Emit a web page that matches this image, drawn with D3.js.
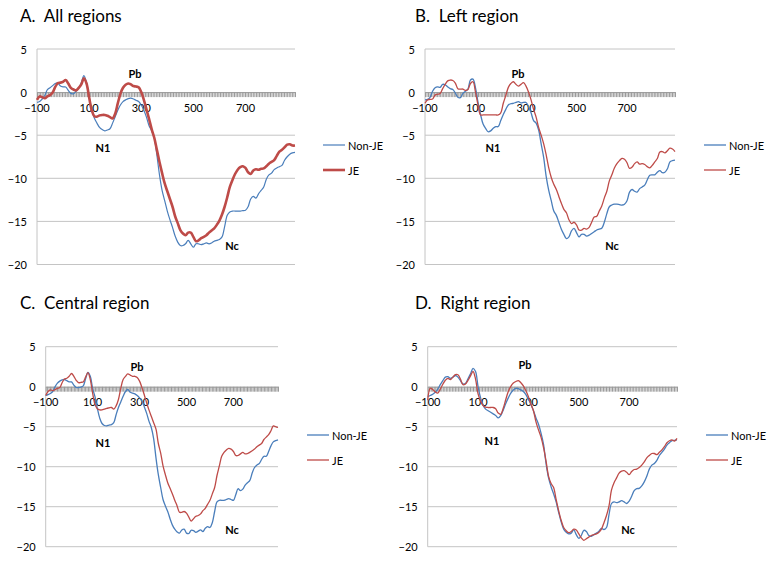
<!DOCTYPE html>
<html><head><meta charset="utf-8">
<script src="https://cdn.jsdelivr.net/npm/d3@7"></script>
<style>
body{margin:0;background:#fff;}
svg{display:block;}
text{font-family: Lato, "Open Sans", "DejaVu Sans", sans-serif; fill:#000;}
.title{white-space:pre;}
</style>
</head><body>
<svg id="chart" width="771" height="561"></svg>
<script>
// ---------- DATA ----------
const times = [-100,-90,-80,-70,-60,-50,-40,-30,-20,-10,
  0,10,20,30,40,50,60,70,80,90,
  100,110,120,130,140,150,160,170,180,190,
  200,210,220,230,240,250,260,270,280,290,
  300,310,320,330,340,350,360,370,380,390,
  400,410,420,430,440,450,460,470,480,490,
  500,510,520,530,540,550,560,570,580,590,
  600,610,620,630,640,650,660,670,680,690,
  700,710,720,730,740,750,760,770,780,790,
  800,810,820,830,840,850,860,870,880,890];

const seriesNames = ["Non-JE", "JE"];
const panelTitles = ["A.  All regions", "B.  Left region", "C.  Central region", "D.  Right region"];
const xTickLabels = [-100, 100, 300, 500, 700];
const yTicks = [5, 0, -5, -10, -15, -20];
const componentLabels = ["Pb", "N1", "Nc"];

// A. All regions
const allNonJE = [-1.2,-1.1,-0.8,-0.4,0.3,0.5,0.75,1.0,1.05,0.7,
  0.6,0.6,0.2,-0.15,-0.2,0.1,0.45,1.1,1.9,1.1,
  -0.5,-2.0,-3.0,-3.6,-4.1,-4.35,-4.5,-4.4,-4.25,-3.6,
  -2.85,-2.1,-1.5,-1.1,-0.9,-0.75,-0.7,-0.8,-0.95,-1.1,
  -1.5,-2.1,-2.9,-3.9,-4.5,-5.3,-7.3,-9.6,-11.4,-12.6,
  -13.8,-14.8,-15.7,-16.7,-17.4,-17.8,-17.8,-17.6,-17.2,-17.6,
  -18.0,-17.6,-17.6,-17.7,-17.6,-17.5,-17.6,-17.5,-17.3,-17.2,
  -17.1,-16.8,-15.6,-14.3,-13.9,-13.8,-13.8,-13.8,-13.8,-13.75,
  -13.7,-13.3,-12.4,-12.1,-12.3,-11.8,-11.4,-11.0,-10.1,-9.6,
  -9.4,-9.0,-8.8,-8.65,-8.5,-7.9,-7.5,-7.2,-7.05,-7.0];
const allJE = [-0.9,-0.5,-0.6,-0.7,-0.5,-0.35,-0.05,0.6,1.05,1.1,
  1.2,1.4,1.0,0.5,0.3,0.2,0.5,0.9,1.6,1.0,
  -0.6,-2.1,-2.8,-2.85,-2.7,-2.65,-2.65,-2.75,-2.9,-3.05,
  -2.5,-1.3,-0.2,0.5,0.85,1.0,0.9,0.7,0.65,0.55,
  0.0,-0.9,-2.0,-3.1,-4.3,-5.3,-6.7,-8.1,-9.4,-10.6,
  -11.5,-12.4,-13.3,-14.4,-15.2,-16.0,-16.4,-16.6,-16.3,-16.3,
  -16.8,-17.3,-17.2,-16.95,-16.8,-16.6,-16.3,-16.05,-15.8,-15.4,
  -14.9,-14.2,-13.3,-12.2,-11.0,-10.2,-9.5,-9.0,-8.7,-8.6,
  -8.8,-9.3,-9.5,-9.1,-8.95,-9.0,-8.9,-8.85,-8.6,-8.3,
  -8.1,-7.9,-7.4,-6.9,-6.7,-6.4,-6.1,-6.05,-6.2,-6.2];

// B. Left region
const leftNonJE = [-0.9,-0.85,-0.6,0.1,0.5,0.6,0.55,0.9,0.85,0.6,
  0.4,0.3,-0.1,-0.6,-0.65,-0.15,0.1,0.35,1.4,1.5,
  0.5,-1.2,-2.6,-3.7,-4.2,-4.6,-4.5,-4.2,-4.0,-4.0,
  -3.3,-2.6,-2.0,-1.5,-1.35,-1.3,-1.2,-1.1,-1.25,-1.2,
  -1.2,-1.7,-2.4,-3.3,-3.6,-4.4,-6.0,-7.6,-9.8,-11.4,
  -12.6,-13.8,-14.3,-15.1,-15.9,-16.5,-17.0,-16.8,-16.1,-15.8,
  -16.3,-16.8,-16.5,-16.5,-16.7,-16.6,-16.4,-16.2,-16.0,-15.9,
  -15.8,-15.1,-14.1,-13.3,-13.1,-13.0,-13.0,-13.05,-13.1,-13.0,
  -12.6,-11.6,-11.3,-11.5,-11.6,-11.2,-11.0,-10.8,-10.2,-9.65,
  -9.6,-9.6,-9.3,-9.1,-9.35,-9.3,-8.9,-8.1,-7.95,-7.9];
const leftJE = [-1.3,-0.9,-0.85,-0.8,-0.35,-0.25,-0.15,0.4,0.9,1.3,
  1.4,1.35,1.05,0.4,0.35,0.35,0.2,0.3,1.0,1.2,
  0.0,-1.5,-2.65,-2.65,-2.65,-2.65,-2.65,-2.65,-2.65,-2.65,
  -2.4,-1.3,-0.4,0.55,1.0,1.2,0.9,0.7,0.9,1.1,
  0.7,0.0,-0.9,-2.0,-2.9,-4.1,-5.0,-6.0,-7.3,-8.8,
  -9.9,-10.7,-11.3,-12.1,-12.9,-13.6,-14.0,-14.8,-15.25,-15.1,
  -15.4,-16.0,-16.0,-15.8,-15.9,-15.7,-15.1,-14.5,-14.4,-13.8,
  -13.2,-12.3,-11.5,-10.3,-9.6,-8.8,-8.3,-7.95,-7.7,-7.8,
  -8.2,-8.85,-8.7,-8.3,-8.1,-8.35,-8.3,-8.4,-8.65,-8.8,
  -8.5,-8.1,-7.7,-6.95,-6.9,-7.05,-6.8,-6.5,-6.6,-6.9];

// C. Central region
const centralNonJE = [-1.1,-1.0,-0.85,-0.6,0.0,0.45,0.7,0.85,0.9,0.75,
  0.6,0.6,0.2,-0.1,-0.1,-0.05,0.1,1.0,1.8,1.3,
  -0.2,-1.25,-2.7,-3.9,-4.6,-4.85,-4.9,-4.8,-4.75,-4.5,
  -3.5,-2.6,-1.9,-1.2,-0.6,-0.35,-0.7,-0.8,-0.9,-1.1,
  -1.4,-1.8,-2.5,-3.3,-4.3,-5.1,-6.5,-8.9,-11.0,-12.6,
  -14.1,-14.9,-15.6,-16.5,-17.3,-17.8,-18.15,-18.3,-17.9,-17.8,
  -18.3,-18.35,-17.95,-18.0,-18.2,-18.05,-17.9,-18.1,-17.7,-17.5,
  -17.6,-17.0,-15.6,-14.4,-14.2,-14.2,-14.2,-14.1,-14.0,-14.1,
  -14.2,-13.5,-12.75,-13.0,-12.8,-12.3,-12.0,-11.7,-10.8,-10.1,
  -9.8,-9.6,-9.1,-8.7,-8.7,-8.1,-7.4,-6.9,-6.75,-6.65];
const centralJE = [-1.1,-0.6,-0.4,-0.5,-0.35,-0.2,-0.1,0.5,0.95,1.05,
  1.3,1.65,1.3,0.8,0.5,0.55,0.6,1.2,1.75,0.9,
  -0.8,-2.2,-2.75,-2.9,-2.9,-2.8,-2.7,-2.65,-2.6,-2.8,
  -2.4,-1.6,-0.2,0.9,1.3,1.6,1.45,1.3,1.3,1.15,
  0.7,-0.1,-1.0,-2.0,-2.9,-3.7,-4.5,-5.3,-7.1,-8.3,
  -9.9,-11.0,-12.0,-12.7,-13.4,-14.2,-14.9,-15.7,-15.7,-15.6,
  -15.8,-16.3,-16.8,-16.5,-16.2,-16.1,-15.9,-15.5,-15.2,-14.7,
  -14.2,-13.4,-12.6,-11.1,-9.9,-8.7,-8.2,-7.9,-7.7,-7.8,
  -8.1,-8.6,-8.6,-8.4,-8.2,-8.4,-8.35,-8.2,-8.0,-7.8,
  -7.5,-7.3,-7.1,-6.6,-6.3,-6.0,-5.5,-4.9,-5.0,-5.1];

// D. Right region
const rightNonJE = [-1.25,-1.1,-0.95,-0.7,-0.3,0.25,0.75,1.2,1.25,1.05,
  1.2,1.4,1.2,0.75,0.35,0.4,1.0,1.6,2.3,1.9,
  0.0,-1.4,-2.3,-2.8,-3.0,-3.2,-3.4,-3.6,-3.9,-3.6,
  -2.9,-2.1,-1.4,-0.8,-0.4,-0.2,-0.25,-0.4,-0.6,-1.0,
  -1.6,-2.2,-3.0,-3.9,-4.7,-5.8,-7.2,-9.6,-11.4,-12.5,
  -13.4,-14.4,-15.7,-16.9,-17.8,-18.2,-18.4,-18.3,-17.9,-18.5,
  -18.95,-18.6,-17.95,-18.1,-18.6,-18.7,-18.5,-18.3,-18.05,-17.7,
  -17.85,-17.6,-16.0,-14.6,-14.4,-14.5,-14.4,-14.25,-14.4,-14.6,
  -14.3,-13.7,-13.0,-12.75,-12.7,-12.4,-11.9,-11.2,-10.3,-9.8,
  -9.6,-9.2,-8.6,-8.2,-7.8,-7.3,-7.0,-6.75,-6.7,-6.65];
const rightJE = [-1.7,-0.2,-0.35,-0.65,-0.8,-0.3,0.3,0.8,1.05,0.9,
  1.2,1.5,1.5,0.95,0.25,0.35,0.8,1.35,1.9,0.95,
  -0.9,-1.8,-2.35,-2.55,-2.6,-2.6,-2.6,-2.75,-3.3,-3.45,
  -2.7,-1.6,-0.6,0.05,0.45,0.65,0.75,0.5,0.1,-0.5,
  -1.25,-2.2,-3.0,-4.4,-5.4,-6.3,-7.6,-9.3,-11.2,-12.1,
  -12.6,-14.1,-15.5,-16.7,-17.6,-18.0,-18.25,-18.1,-17.8,-17.9,
  -18.4,-18.9,-19.2,-19.0,-18.8,-18.6,-18.5,-18.4,-18.2,-17.8,
  -17.0,-16.1,-14.9,-12.9,-12.0,-11.4,-10.8,-10.55,-10.5,-10.7,
  -11.0,-10.6,-10.35,-10.3,-10.1,-9.8,-9.4,-8.9,-8.6,-8.35,
  -8.35,-8.5,-8.2,-7.9,-7.5,-7.0,-6.75,-6.65,-6.8,-6.45];

// ---------- LAYOUT ----------
const colors = {nonje: "#4a7ebb", je: "#be4b48", grid: "#c4c4c4", tick: "#9a9a9a"};
const panels = [
  {title: panelTitles[0], nonje: allNonJE, je: allJE,
   box: {l: 37, r: 295, t: 49, b: 264.5}, titleX: 20, titleY: 22,
   leg: {x: 323, y: 145}, jeW: 2.6, nonjeW: 1.2,
   ann: [[135, 73], [103, 147], [232, 245]]},
  {title: panelTitles[1], nonje: leftNonJE, je: leftJE,
   box: {l: 425, r: 675, t: 49, b: 264.5}, titleX: 415, titleY: 22,
   leg: {x: 704, y: 145}, jeW: 1.3, nonjeW: 1.3,
   ann: [[518, 73], [493, 147], [612, 245]]},
  {title: panelTitles[2], nonje: centralNonJE, je: centralJE,
   box: {l: 45.7, r: 278, t: 346.7, b: 546.7}, titleX: 20, titleY: 309,
   leg: {x: 307, y: 435}, jeW: 1.3, nonjeW: 1.3,
   ann: [[137, 366], [103, 442], [232, 529]]},
  {title: panelTitles[3], nonje: rightNonJE, je: rightJE,
   box: {l: 427.7, r: 677, t: 346.7, b: 546.7}, titleX: 415, titleY: 309,
   leg: {x: 706, y: 435}, jeW: 1.3, nonjeW: 1.3,
   ann: [[525, 364], [492, 440], [628, 529]]}
];

const svg = d3.select("#chart");
const fmt = d => d < 0 ? "\u2212" + Math.abs(d) : String(d);

panels.forEach(p => {
  const g = svg.append("g");
  const x = d3.scaleLinear().domain([-100, 890]).range([p.box.l, p.box.r]);
  const y = d3.scaleLinear().domain([-20, 5]).range([p.box.b, p.box.t]);

  // title
  g.append("text").attr("class", "title").attr("x", p.titleX).attr("y", p.titleY)
    .attr("xml:space", "preserve")
    .attr("font-size", 17).text(p.title);

  // gridlines
  g.selectAll("line.grid").data(yTicks.filter(v => v !== 0)).join("line")
    .attr("x1", p.box.l).attr("x2", p.box.r)
    .attr("y1", d => y(d)).attr("y2", d => y(d))
    .attr("stroke", colors.grid).attr("stroke-width", 1);

  // left value axis line
  g.append("line").attr("x1", p.box.l).attr("x2", p.box.l)
    .attr("y1", p.box.t).attr("y2", p.box.b)
    .attr("stroke", colors.grid).attr("stroke-width", 1);

  // y labels
  g.selectAll("text.yl").data(yTicks).join("text")
    .attr("x", p.box.l - 10).attr("y", d => y(d))
    .attr("text-anchor", "end").attr("dominant-baseline", "central")
    .attr("font-size", 11).text(fmt);

  // x axis at 0 with dense category ticks
  const xAxis = d3.axisBottom(x).tickValues(d3.range(-100, 891, 6))
    .tickSize(5).tickSizeOuter(0).tickFormat("");
  const ax = g.append("g").attr("transform", `translate(0,${y(0)})`).call(xAxis);
  ax.selectAll("line").attr("stroke", colors.tick).attr("stroke-width", 1);
  ax.select(".domain").attr("stroke", colors.tick);

  // x labels
  g.selectAll("text.xl").data(xTickLabels).join("text")
    .attr("x", d => x(d)).attr("y", y(0) + 15)
    .attr("text-anchor", "middle").attr("dominant-baseline", "central")
    .attr("font-size", 11).text(fmt);

  // component labels
  g.selectAll("text.ann").data(componentLabels).join("text")
    .attr("x", (d, i) => p.ann[i][0]).attr("y", (d, i) => p.ann[i][1])
    .attr("text-anchor", "middle").attr("dominant-baseline", "central")
    .attr("font-size", 11).attr("font-weight", "bold").text(d => d);

  // lines
  const line = d3.line().x((d, i) => x(times[i])).y(d => y(d)).curve(d3.curveCatmullRom);
  g.append("path").datum(p.nonje).attr("d", line).attr("fill", "none")
    .attr("stroke", colors.nonje).attr("stroke-width", p.nonjeW);
  g.append("path").datum(p.je).attr("d", line).attr("fill", "none")
    .attr("stroke", colors.je).attr("stroke-width", p.jeW);

  // legend
  const legItems = [{name: seriesNames[0], c: colors.nonje, w: p.nonjeW},
                    {name: seriesNames[1], c: colors.je, w: p.jeW}];
  const lg = g.selectAll("g.leg").data(legItems).join("g")
    .attr("transform", (d, i) => `translate(${p.leg.x},${p.leg.y + i * 25})`);
  lg.append("line").attr("x1", 0).attr("x2", 22).attr("y1", 0).attr("y2", 0)
    .attr("stroke", d => d.c).attr("stroke-width", d => d.w);
  lg.append("text").attr("x", 25).attr("y", 0).attr("dominant-baseline", "central")
    .attr("font-size", 11).text(d => d.name);
});
</script>
</body></html>
